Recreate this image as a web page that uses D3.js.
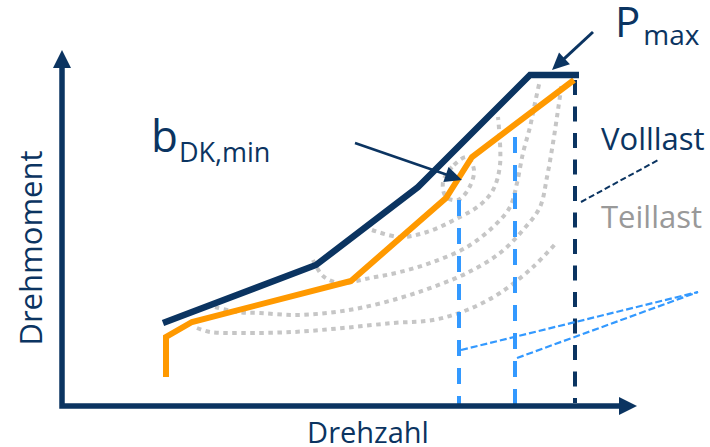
<!DOCTYPE html>
<html>
<head>
<meta charset="utf-8">
<script src="https://cdn.jsdelivr.net/npm/d3@7"></script>
<style>
  body { margin: 0; background: #fff; }
  text { font-family: "Open Sans", sans-serif; }
</style>
</head>
<body>
<div id="chart"></div>
<script>
// Kennfeld — Drehmoment über Drehzahl (schematisch)

const navy   = "#0b3461";
const orange = "#ff9900";
const blau   = "#3399ff";
const grau   = "#c6c6c6";

// Volllastlinie und Linie minimalen Verbrauchs  [Drehzahl, Drehmoment]
const volllast = [[20.2, 20.75], [50.8, 35.25], [71.2, 54.75], [93.6, 82.75], [103.4, 82.75]];
const bMinLinie = [[20.8, 7.25], [20.8, 17.25], [26, 21], [57.8, 31.25], [76.8, 52], [82, 62.25], [102.4, 81.5]];

// Muscheldiagramm — Linien gleichen Verbrauchs
const muschel1 = [[81, 62.25], [78, 59.75], [76.2, 56], [76.8, 52.25], [79.2, 51.5], [81.4, 54.5], [82.4, 59]];
const muschel2 = [[62, 44], [67.6, 42.25], [73, 43.5], [79.6, 47.25], [83.6, 50.25], [86.2, 54], [87.6, 60.25], [87.2, 72.25]];
const muschel3 = [[50.2, 36.5], [52.2, 32.5], [55.6, 30.75], [61.6, 32], [67.6, 33.5], [74.2, 36], [81, 39.75],
                  [86.2, 44.75], [89.6, 49.75], [91, 55.75], [92.2, 63.25], [93.6, 69.75], [94.6, 75.75], [95.6, 81.5]];
const muschel4 = [[30.6, 24.75], [35, 23.5], [39.6, 23.25], [46.2, 22.75], [53, 23.25], [59.6, 24.5], [67.6, 27],
                  [74.2, 29.75], [81, 33.25], [87.6, 38.25], [92.2, 44], [95.6, 49.75], [97, 57.25], [98.2, 65.75],
                  [99.2, 74], [100, 81]];
const muschel5 = [[27, 19.5], [29.6, 18.5], [36.2, 18.25], [46.2, 18.5], [56.2, 19.5], [66.2, 20.75], [74.2, 21.5],
                  [81, 24], [87.6, 28.25], [94.2, 34.75], [99, 41]];

// Senkrechte Markierungen  [Drehzahl, Drehmoment oben]
const senkrechtVoll = [102.6, 81.5];
const senkrechtTeil = [[79.4, 51.5], [90.6, 67.25]];

// Hinweislinien
const hinweisTeil = [[[79.8, 14], [127.2, 28.5]], [[91, 12], [127.2, 28.5]]];
const hinweisVoll = [[103.8, 51], [119.6, 61.75]];
const pfeilPmax = [[106.2, 93.5], [98, 84]];
const pfeilBmin = [[58.6, 65.75], [80, 56.5]];

const largeur = 710, hauteur = 447;

const x = d3.scaleLinear().domain([0, 115]).range([62, 637]);
const y = d3.scaleLinear().domain([0, 89]).range([406, 50]);

const svg = d3.select("#chart").append("svg")
    .attr("width", largeur).attr("height", hauteur);

const ligne = d3.line().x(d => x(d[0])).y(d => y(d[1]));
const courbe = d3.line().x(d => x(d[0])).y(d => y(d[1])).curve(d3.curveCatmullRom.alpha(0.5));
const boucle = d3.line().x(d => x(d[0])).y(d => y(d[1])).curve(d3.curveCatmullRomClosed.alpha(0.5));

// Pfeil: Linie bis zur Spitze-Basis, dann Dreieck
function pfeil(g, von, bis, breite, kopfL, kopfB) {
    const x0 = x(von[0]), y0 = y(von[1]), x1 = x(bis[0]), y1 = y(bis[1]);
    const dx = x1 - x0, dy = y1 - y0, l = Math.hypot(dx, dy);
    const ux = dx / l, uy = dy / l;
    const bx = x1 - ux * kopfL, by = y1 - uy * kopfL;
    g.append("line")
        .attr("x1", x0).attr("y1", y0).attr("x2", bx + ux).attr("y2", by + uy)
        .attr("stroke", navy).attr("stroke-width", breite);
    g.append("path")
        .attr("d", `M${x1},${y1}L${bx - uy * kopfB / 2},${by + ux * kopfB / 2}L${bx + uy * kopfB / 2},${by - ux * kopfB / 2}Z`)
        .attr("fill", navy);
}

// Linien gleichen Verbrauchs
const gMuschel = svg.append("g")
    .attr("fill", "none").attr("stroke", grau)
    .attr("stroke-width", 4).attr("stroke-dasharray", "4.5 4.5");
gMuschel.append("path").attr("d", boucle(muschel1));
[muschel2, muschel3, muschel4, muschel5].forEach(m => gMuschel.append("path").attr("d", courbe(m)));

// Senkrechte Linien
svg.append("line")
    .attr("x1", x(senkrechtVoll[0])).attr("x2", x(senkrechtVoll[0]))
    .attr("y1", y(senkrechtVoll[1])).attr("y2", y(0) - 3)
    .attr("stroke", navy).attr("stroke-width", 4).attr("stroke-dasharray", "15 11.5");
svg.selectAll(".teil").data(senkrechtTeil).join("line")
    .attr("x1", d => x(d[0])).attr("x2", d => x(d[0]))
    .attr("y1", d => y(d[1])).attr("y2", y(0))
    .attr("stroke", blau).attr("stroke-width", 4).attr("stroke-dasharray", "16 12");

// Hinweislinien
svg.selectAll(".hinweis").data(hinweisTeil).join("path")
    .attr("d", ligne).attr("fill", "none")
    .attr("stroke", blau).attr("stroke-width", 2.2).attr("stroke-dasharray", "7 3");
svg.append("path").attr("d", ligne(hinweisVoll)).attr("fill", "none")
    .attr("stroke", navy).attr("stroke-width", 2).attr("stroke-dasharray", "6 3");

// Verbrauchsoptimale Linie und Volllast
svg.append("path").attr("d", ligne(bMinLinie)).attr("fill", "none")
    .attr("stroke", orange).attr("stroke-width", 6).attr("stroke-linejoin", "miter");
svg.append("path").attr("d", ligne(volllast)).attr("fill", "none")
    .attr("stroke", navy).attr("stroke-width", 6.5).attr("stroke-linejoin", "miter");

// Achsen
const gAxes = svg.append("g");
gAxes.append("path")
    .attr("d", `M${x(0)},${y(89) + 16}L${x(0)},${y(0)}L${x(115) - 16},${y(0)}`)
    .attr("fill", "none").attr("stroke", navy).attr("stroke-width", 5.5)
    .attr("stroke-linejoin", "miter");
gAxes.append("path")
    .attr("d", `M${x(0)},${y(89)}L${x(0) - 9},${y(89) + 18}L${x(0) + 9},${y(89) + 18}Z`)
    .attr("fill", navy);
gAxes.append("path")
    .attr("d", `M${x(115)},${y(0)}L${x(115) - 18},${y(0) - 9}L${x(115) - 18},${y(0) + 9}Z`)
    .attr("fill", navy);

// Pfeile
pfeil(svg, pfeilPmax[0], pfeilPmax[1], 3, 17, 16);
pfeil(svg, pfeilBmin[0], pfeilBmin[1], 2.5, 17, 16);

// Beschriftungen
svg.append("text").attr("transform", "translate(42,248) rotate(-90)")
    .attr("text-anchor", "middle").attr("fill", navy).attr("font-size", 31).text("Drehmoment");
svg.append("text").attr("x", 368).attr("y", 443)
    .attr("text-anchor", "middle").attr("fill", navy).attr("font-size", 29).text("Drehzahl");

const pmax = svg.append("text").attr("x", 615).attr("y", 37).attr("fill", navy);
pmax.append("tspan").attr("font-size", 42).text("P");
pmax.append("tspan").attr("font-size", 28).attr("dy", 8).attr("dx", 3).text("max");

const bdk = svg.append("text").attr("x", 151).attr("y", 152).attr("fill", navy);
bdk.append("tspan").attr("font-size", 44).text("b");
bdk.append("tspan").attr("font-size", 27).attr("dy", 10).attr("dx", 1).text("DK,min");

svg.append("text").attr("x", 601).attr("y", 150)
    .attr("fill", navy).attr("font-size", 31).text("Volllast");
svg.append("text").attr("x", 601).attr("y", 228)
    .attr("fill", "#999999").attr("font-size", 31).text("Teillast");
</script>
</body>
</html>
